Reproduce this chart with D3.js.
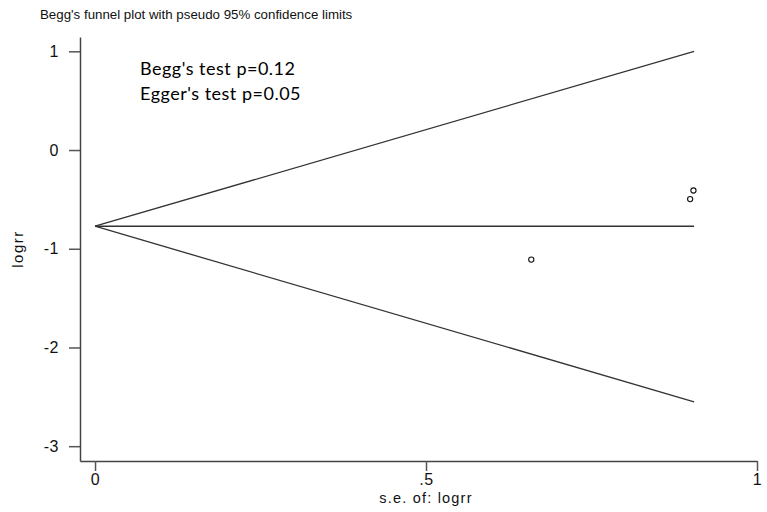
<!DOCTYPE html>
<html>
<head>
<meta charset="utf-8">
<script src="https://cdn.jsdelivr.net/npm/d3@7"></script>
<style>
  body { margin: 0; background: #fff; }
  svg { display: block; }
</style>
</head>
<body>
<div id="chart"></div>
<script>
// study points: standard error and log relative risk
const seValues = [0.904, 0.899, 0.659];
const logrrValues = [-0.41, -0.497, -1.11];

// pseudo 95% confidence limits (end points)
const limitSe = [0, 0.905];
const pooled = [-0.772, -0.772];
const upperLimit = [-0.772, 1.0];
const lowerLimit = [-0.772, -2.55];

const xTicks = [0, 0.5, 1];
const xTickLabels = ['0', '.5', '1'];
const yTicks = [1, 0, -1, -2, -3];
const yTickLabels = ['1', '0', '-1', '-2', '-3'];

const width = 767, height = 512;

const svg = d3.select('#chart')
    .append('svg')
    .attr('width', width)
    .attr('height', height);

const x = d3.scaleLinear().domain([-0.0227, 1.0]).range([80, 757]);
const y = d3.scaleLinear().domain([-3.15, 1.145]).range([461, 37]);

// axes
const xAxis = svg.append('g')
    .attr('transform', `translate(0, ${y.range()[0]})`)
    .call(d3.axisBottom(x).tickValues(xTicks).tickFormat((d, i) => xTickLabels[i]).tickSize(10).tickSizeOuter(0).tickPadding(3));

const yAxis = svg.append('g')
    .attr('transform', `translate(${x.range()[0]}, 0)`)
    .call(d3.axisLeft(y).tickValues(yTicks).tickFormat((d, i) => yTickLabels[i]).tickSize(11).tickSizeOuter(0).tickPadding(10));

[xAxis, yAxis].forEach(a => {
  a.select('.domain').attr('stroke', '#444').attr('stroke-width', 1.5);
  a.selectAll('.tick line').attr('stroke', '#555').attr('stroke-width', 1.5);
  a.selectAll('.tick text')
      .attr('fill', '#111')
      .style('font-family', '"Liberation Sans", Arial, sans-serif')
      .style('font-size', '16px')
      .style('letter-spacing', '0.5px');
});

// funnel lines
const line = d3.line().x(d => x(d[0])).y(d => y(d[1]));
[upperLimit, pooled, lowerLimit].forEach(lim => {
  svg.append('path')
      .datum(limitSe.map((s, i) => [s, lim[i]]))
      .attr('d', line)
      .attr('fill', 'none')
      .attr('stroke', '#333')
      .attr('stroke-width', 1.3);
});

// points
svg.selectAll('circle.study')
    .data(seValues.map((s, i) => [s, logrrValues[i]]))
    .join('circle')
    .attr('class', 'study')
    .attr('cx', d => x(d[0]))
    .attr('cy', d => y(d[1]))
    .attr('r', 2.6)
    .attr('fill', 'none')
    .attr('stroke', '#111')
    .attr('stroke-width', 1.1);

// titles
svg.append('text')
    .attr('x', 40)
    .attr('y', 18.5)
    .style('font-family', '"Liberation Sans", Arial, sans-serif')
    .style('font-size', '13.3px')
    .attr('fill', '#111')
    .text("Begg's funnel plot with pseudo 95% confidence limits");

svg.append('text')
    .attr('transform', 'translate(23, 249) rotate(-90)')
    .attr('text-anchor', 'middle')
    .style('font-family', '"Liberation Sans", Arial, sans-serif')
    .style('font-size', '15px')
    .style('letter-spacing', '1.5px')
    .attr('fill', '#111')
    .text('logrr');

svg.append('text')
    .attr('x', 426)
    .attr('y', 503)
    .attr('text-anchor', 'middle')
    .style('font-family', '"Liberation Sans", Arial, sans-serif')
    .style('font-size', '14.5px')
    .style('letter-spacing', '1.2px')
    .attr('fill', '#111')
    .text('s.e. of: logrr');

// test annotation
const notes = ["Begg's test p=0.12", "Egger's test p=0.05"];
svg.selectAll('text.note')
    .data(notes)
    .join('text')
    .attr('class', 'note')
    .attr('x', 140)
    .attr('y', (d, i) => 75 + i * 25)
    .style('font-family', 'Lato, "Open Sans", sans-serif')
    .style('font-size', '18px')
    .style('letter-spacing', '0.5px')
    .attr('fill', '#000')
    .text(d => d);
</script>
</body>
</html>
